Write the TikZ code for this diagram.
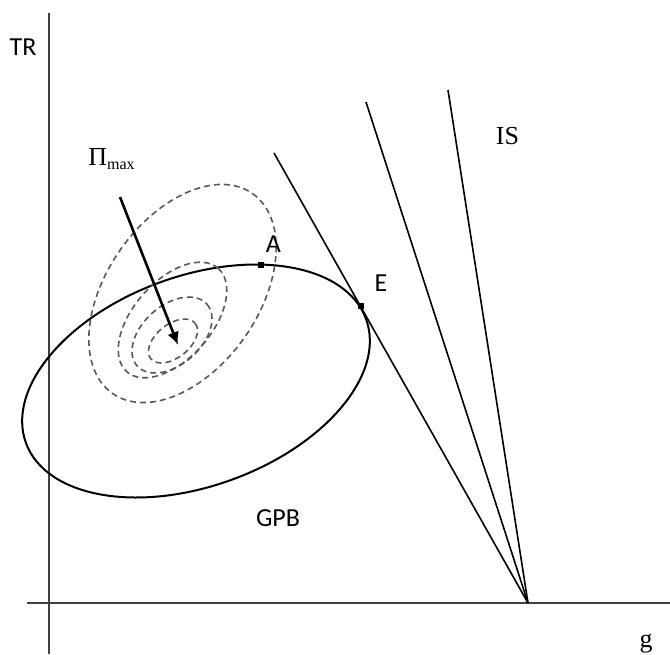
\documentclass[tikz,border=0pt]{standalone}
\usepackage{fontspec}
\setmainfont{Carlito}
\newfontfamily\serifx{Liberation Serif}
\usetikzlibrary{arrows.meta}
\begin{document}
\begin{tikzpicture}[x=0.5pt,y=-0.5pt,
  axis/.style={line width=1pt, black!75},
  budget/.style={line width=0.8pt},
  gpb/.style={line width=1pt},
  iso/.style={dash pattern=on 3pt off 2pt, line width=0.8pt, black!65},
  ptbox/.style={fill, rectangle, minimum size=3pt, inner sep=0pt},
  lbl/.style={inner sep=0pt, font=\fontsize{13}{15}\selectfont},
  slbl/.style={inner sep=0pt, font=\serifx\fontsize{13}{15}\selectfont}]
\useasboundingbox (0,0) rectangle (670,654);
% axes
\coordinate (ytop) at (49,13);
\coordinate (ybot) at (49,654);
\coordinate (xl) at (27,603);
\coordinate (xr) at (670,603);
\draw[axis] (ytop) -- (ybot);
\draw[axis] (xl) -- (xr);
% budget lines
\coordinate (O) at (528,603);
\coordinate (L1) at (274,153);
\coordinate (L2) at (366,102);
\coordinate (L3) at (448,90);
\draw[budget] (O) -- (L1);
\draw[budget] (O) -- (L2);
\draw[budget] (O) -- (L3);
% GPB ellipse
\coordinate (gc) at (196,381);
\draw[gpb, rotate around={20:(gc)}] (gc) ellipse [x radius=181, y radius=105];
% iso-profit ellipses
\coordinate (c1) at (182.5,293.5);
\coordinate (c2) at (172.5,320);
\coordinate (c3) at (172,335);
\coordinate (c4) at (173,341);
\draw[iso, rotate around={55:(c1)}] (c1) ellipse [x radius=122, y radius=76];
\draw[iso, rotate around={48.5:(c2)}] (c2) ellipse [x radius=69, y radius=39];
\draw[iso, rotate around={41.5:(c3)}] (c3) ellipse [x radius=46.6, y radius=29.5];
\draw[iso, rotate around={38.5:(c4)}] (c4) ellipse [x radius=28.4, y radius=16.7];
% arrow
\coordinate (as) at (120,197);
\coordinate (ae) at (178,345);
\draw[line width=1.3pt, -{Latex[length=6.5pt,width=6pt]}] (as) -- (ae);
% points
\node[ptbox] (pA) at (261,265) {};
\node[ptbox] (pE) at (361,306) {};
% labels
\node[lbl] (TR) at (23,47.5) {TR};
\node[slbl] (IS) at (507.5,136.5) {IS};
\node[lbl] (A) at (273.5,244) {A};
\node[lbl] (E) at (381,283) {E};
\node[lbl] (GPB) at (278,518) {GPB};
\node[slbl] (g) at (646,644) {g};
\node[slbl] (pi) at (111.5,159) {Π\raisebox{-0.4ex}{\fontsize{8}{9}\selectfont max}};
\end{tikzpicture}
\end{document}
